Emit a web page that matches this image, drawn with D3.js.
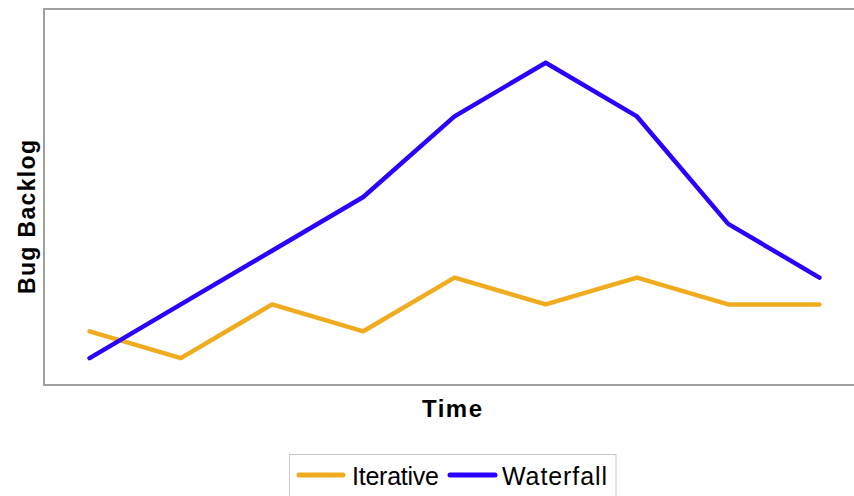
<!DOCTYPE html>
<html><head><meta charset="utf-8">
<script src="https://cdn.jsdelivr.net/npm/d3@7"></script>
<style>body{margin:0;background:#fff}svg{display:block}</style>
</head><body>
<svg id="c" width="854" height="496"></svg>
<script>
const periods = [1,2,3,4,5,6,7,8,9];
const iterative = [2,1,3,2,4,3,4,3,3];
const waterfall = [1,3,5,7,10,12,10,6,4];
const seriesNames = ["Iterative","Waterfall"];
const colors = ["#F0AC1E","#2A00FF"];

const svg = d3.select("#c");
const L = 44, T = 9, R = 865, B = 385;
const x = d3.scalePoint().domain(periods).range([L, R]).padding(0.5);
const y = d3.scaleLinear().domain([0,14]).range([B, T]);
const font = "Liberation Sans, Arial, sans-serif";

svg.append("path").attr("d", `M${R},${T}H${L}V${B}H${R}`)
  .attr("fill","none").attr("stroke","#a0a0a0").attr("stroke-width",2);

const line = d3.line().x((d,i)=>x(periods[i])).y(d=>y(d));
[iterative, waterfall].forEach((s,k)=>{
  svg.append("path").datum(s).attr("d", line).attr("fill","none")
    .attr("stroke", colors[k]).attr("stroke-width",4.5)
    .attr("stroke-linecap","round").attr("stroke-linejoin","round");
});

svg.append("text").attr("x",422).attr("y",417)
  .attr("font-family",font).attr("font-weight","bold")
  .attr("font-size",24).attr("textLength",60).attr("lengthAdjust","spacing").text("Time");
svg.append("text").attr("transform","translate(35,294) rotate(-90)")
  .attr("font-family",font).attr("font-weight","bold")
  .attr("font-size",23).attr("textLength",154).attr("lengthAdjust","spacing").text("Bug Backlog");

const lg = svg.append("g");
lg.append("rect").attr("x",289.5).attr("y",454.5).attr("width",326.5).attr("height",50)
  .attr("fill","#fff").attr("stroke","#c8c8c8");
const items = [{sx:297, ex:345, tx:352, tw:87},{sx:448, ex:497, tx:502, tw:105}];
items.forEach((it,k)=>{
  lg.append("line").attr("x1",it.sx+2).attr("x2",it.ex-2).attr("y1",475).attr("y2",475)
    .attr("stroke",colors[k]).attr("stroke-width",5).attr("stroke-linecap","round");
  lg.append("text").attr("x",it.tx).attr("y",485)
    .attr("font-family",font).attr("font-size",25)
    .attr("textLength",it.tw).attr("lengthAdjust","spacing")
    .text(seriesNames[k]);
});
</script>
</body></html>
